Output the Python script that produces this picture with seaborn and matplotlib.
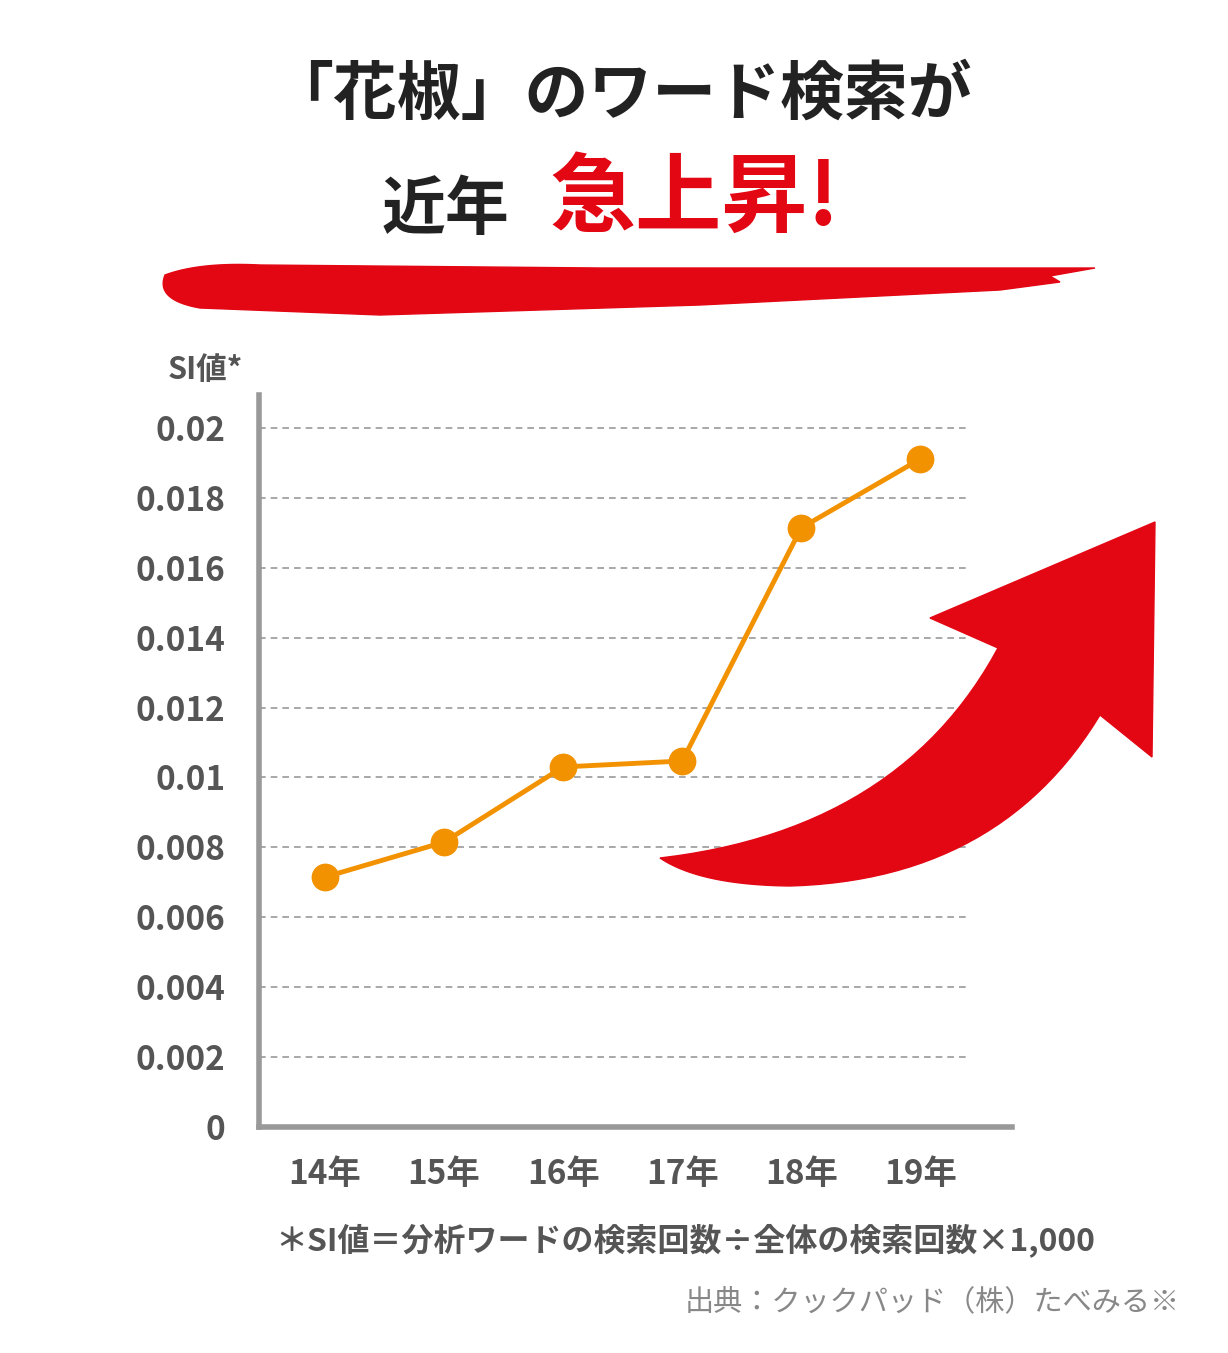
import matplotlib
matplotlib.use("Agg")
import matplotlib.pyplot as plt
import numpy as np
import seaborn as sns
import pandas as pd
from matplotlib.patches import Polygon

years = ["14年", "15年", "16年", "17年", "18年", "19年"]
si_values = [0.00715, 0.00815, 0.0103, 0.01047, 0.01714, 0.01911]
y_ticks = [0, 0.002, 0.004, 0.006, 0.008, 0.01, 0.012, 0.014, 0.016, 0.018, 0.02]
y_labels = ["0", "0.002", "0.004", "0.006", "0.008", "0.01", "0.012", "0.014", "0.016", "0.018", "0.02"]

FONT = "Noto Sans CJK JP"
plt.rcParams["font.family"] = FONT
W, H = 1228, 1353
fig = plt.figure(figsize=(W / 100, H / 100), dpi=100)

def fx(px):
    return px / W

def fy(py):
    return 1 - py / H

def quad(p0, c, p1, n=30):
    t = np.linspace(0, 1, n)[:, None]
    p0, c, p1 = np.array(p0), np.array(c), np.array(p1)
    return list(map(tuple, (1 - t) ** 2 * p0 + 2 * (1 - t) * t * c + t ** 2 * p1))

# title
fig.text(fx(620), fy(95), "「花椒」のワード検索が", fontsize=46, fontweight="bold",
         color="#222222", ha="center", va="center")
fig.text(fx(445), fy(210), "近年", fontsize=46, fontweight="bold",
         color="#222222", ha="center", va="center")
fig.text(fx(695), fy(200), "急上昇!", fontsize=62, fontweight="bold",
         color="#e30613", ha="center", va="center")

# brush stroke
brush = ([(165, 275)] + quad((165, 275), (200, 262), (260, 265))
         + [(600, 268), (1095, 268), (1050, 276), (1060, 282), (1000, 290),
            (700, 305), (380, 315), (200, 308)] + quad((200, 308), (155, 300), (165, 275)))
fig.patches.append(Polygon([(fx(a), fy(b)) for a, b in brush], closed=True,
                           transform=fig.transFigure, color="#e30613", zorder=0))

# chart
ax = fig.add_axes([fx(259), fy(1127), fx(1012 - 259), (1127 - 395) / H])
df = pd.DataFrame({"x": range(len(years)), "y": si_values})
for t in y_ticks[1:]:
    ax.hlines(t, -0.555, 5.38, colors="#999999", linestyles=(0, (4, 3)), linewidth=1.2, zorder=1)
sns.lineplot(data=df, x="x", y="y", ax=ax, color="#f39200", linewidth=3.5,
             marker="o", markersize=20, markeredgewidth=0, zorder=5)
ax.set_xlim(-0.555, 5.77)
ax.set_ylim(0, 0.02094)
ax.set_yticks(y_ticks)
ax.set_yticklabels(y_labels, fontsize=24, fontweight="bold", color="#555555")
ax.set_xticks(range(len(years)))
ax.set_xticklabels(years, fontsize=24, fontweight="bold", color="#555555")
ax.tick_params(length=0, pad=24)
ax.tick_params(axis="x", pad=22)
for s in ["top", "right"]:
    ax.spines[s].set_visible(False)
for s in ["left", "bottom"]:
    ax.spines[s].set_color("#999999")
    ax.spines[s].set_linewidth(4)
ax.set_xlabel("")
ax.set_ylabel("")
ax.patch.set_alpha(0)

fig.text(fx(205), fy(370), "SI値*", fontsize=22, fontweight="bold", color="#555555",
         ha="center", va="center")

# red arrow
arrow = (quad((660, 858), (900, 830), (998, 648))
         + [(930, 618), (1155, 522), (1152, 757), (1100, 715)]
         + quad((1100, 715), (1000, 880), (790, 886))
         + quad((790, 886), (700, 885), (660, 858)))
fig.patches.append(Polygon([(fx(a), fy(b)) for a, b in arrow], closed=True,
                           transform=fig.transFigure, color="#e30613", zorder=3))

fig.text(fx(685), fy(1240), "＊SI値＝分析ワードの検索回数÷全体の検索回数×1,000", fontsize=23,
         fontweight="bold", color="#555555", ha="center", va="center")
fig.text(fx(1180), fy(1302), "出典：クックパッド（株）たべみる※", fontsize=21,
         color="#888888", ha="right", va="center")

fig.savefig("out.png", dpi=100)
